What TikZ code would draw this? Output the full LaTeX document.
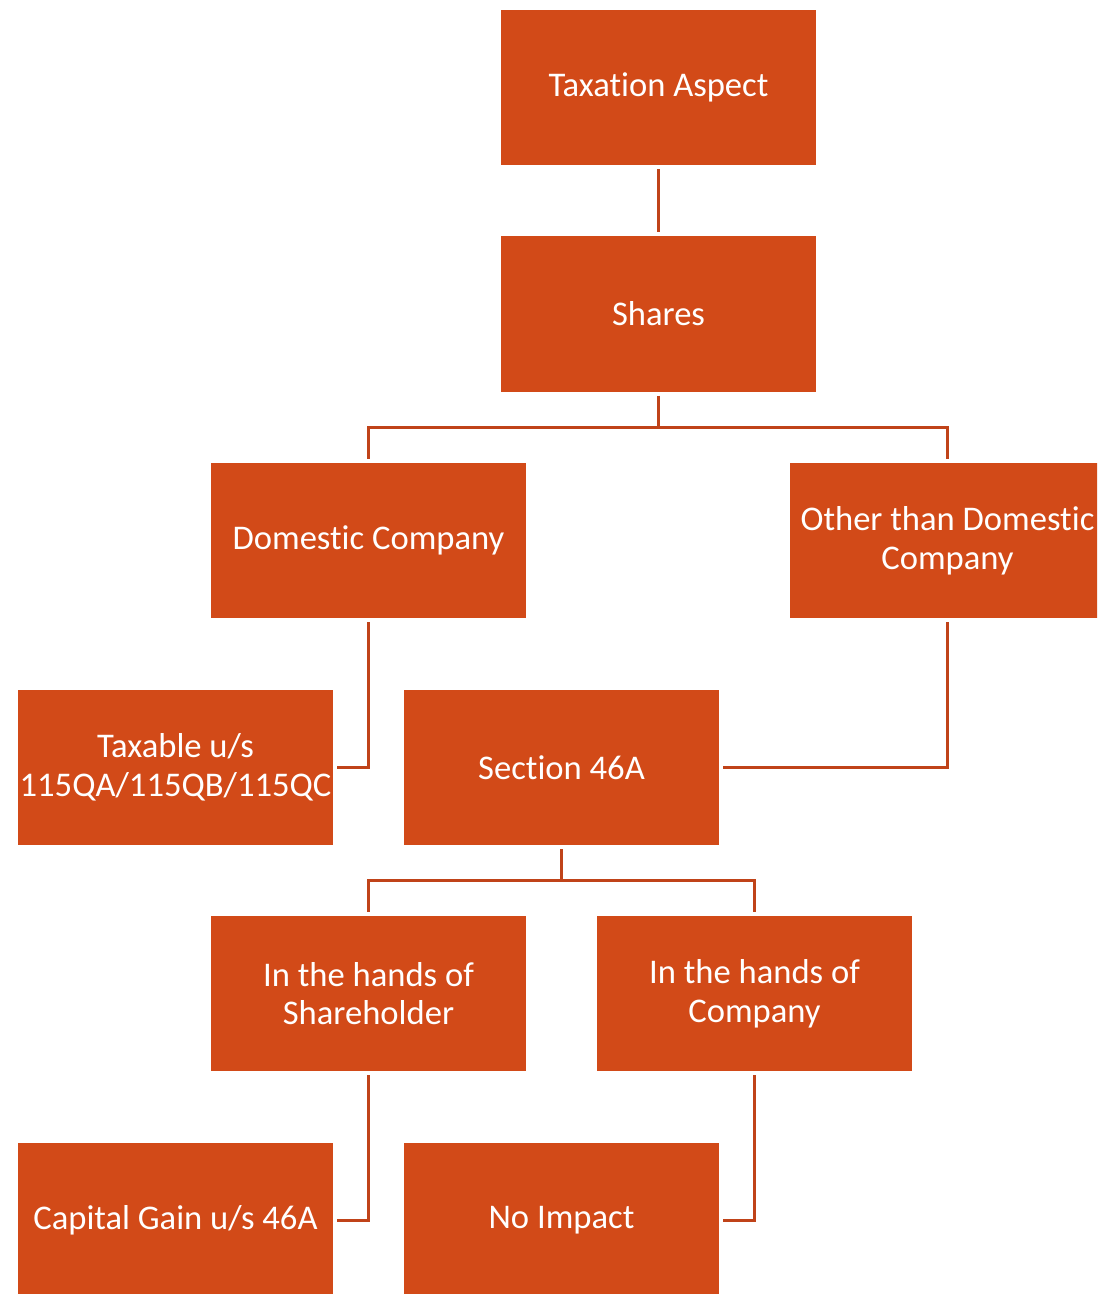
\documentclass[tikz,border=0pt]{standalone}
\usepackage{fontspec}
\setmainfont{Carlito}[Ligatures=NoCommon]
\usepackage{xcolor}
\usepackage{tikz}
\usetikzlibrary{positioning,calc}

\definecolor{boxorange}{RGB}{210,74,24}
\definecolor{lineorange}{RGB}{192,67,25}

\begin{document}
\begin{tikzpicture}[
    x=0.5pt, y=-0.5pt,
    box/.style={fill=boxorange, minimum width=157.5pt, minimum height=77.5pt, inner sep=0pt,
        text=white, align=center, font=\fontsize{17.3}{19.3}\selectfont},
    link/.style={draw=lineorange, line width=1.5pt, shorten <=2pt, shorten >=2pt}
]
    \useasboundingbox (0,0) rectangle (1097,1294);
    \clip (0,0) rectangle (1097,1294);

    % top
    \node[box] (aspect) at (658.5, 87.5) {Taxation Aspect};
    \node[box] (shares) at (658.5, 314) {Shares};

    % company type
    \node[box] (domestic) at (368.5, 540.5) {Domestic Company};
    \node[box] (other) at (947.5, 540.5) {Other than Domestic\\Company};

    % treatment
    \node[box] (taxable) at (175.5, 767.5) {Taxable u/s\\115QA/115QB/115QC};
    \node[box] (sec46a) at (561.5, 767.5) {Section 46A};

    % whose hands
    \node[box] (holder) at (368.5, 993.5) {In the hands of\\Shareholder};
    \node[box] (company) at (754.5, 993.5) {In the hands of\\Company};

    % outcome
    \node[box] (capgain) at (175.5, 1220.5) {Capital Gain u/s 46A};
    \node[box] (noimpact) at (561.5, 1220.5) {No Impact};

    % connectors
    \draw[link] (aspect) -- (shares);
    \draw[link] (shares.south) -- ++(0,36) -| (domestic.north);
    \draw[link] (shares.south) -- ++(0,36) -| (other.north);
    \draw[link] (domestic.south) |- (taxable.east);
    \draw[link] (other.south) |- (sec46a.east);
    \draw[link] (sec46a.south) -- ++(0,35.5) -| (holder.north);
    \draw[link] (sec46a.south) -- ++(0,35.5) -| (company.north);
    \draw[link] (holder.south) |- (capgain.east);
    \draw[link] (company.south) |- (noimpact.east);
\end{tikzpicture}
\end{document}
